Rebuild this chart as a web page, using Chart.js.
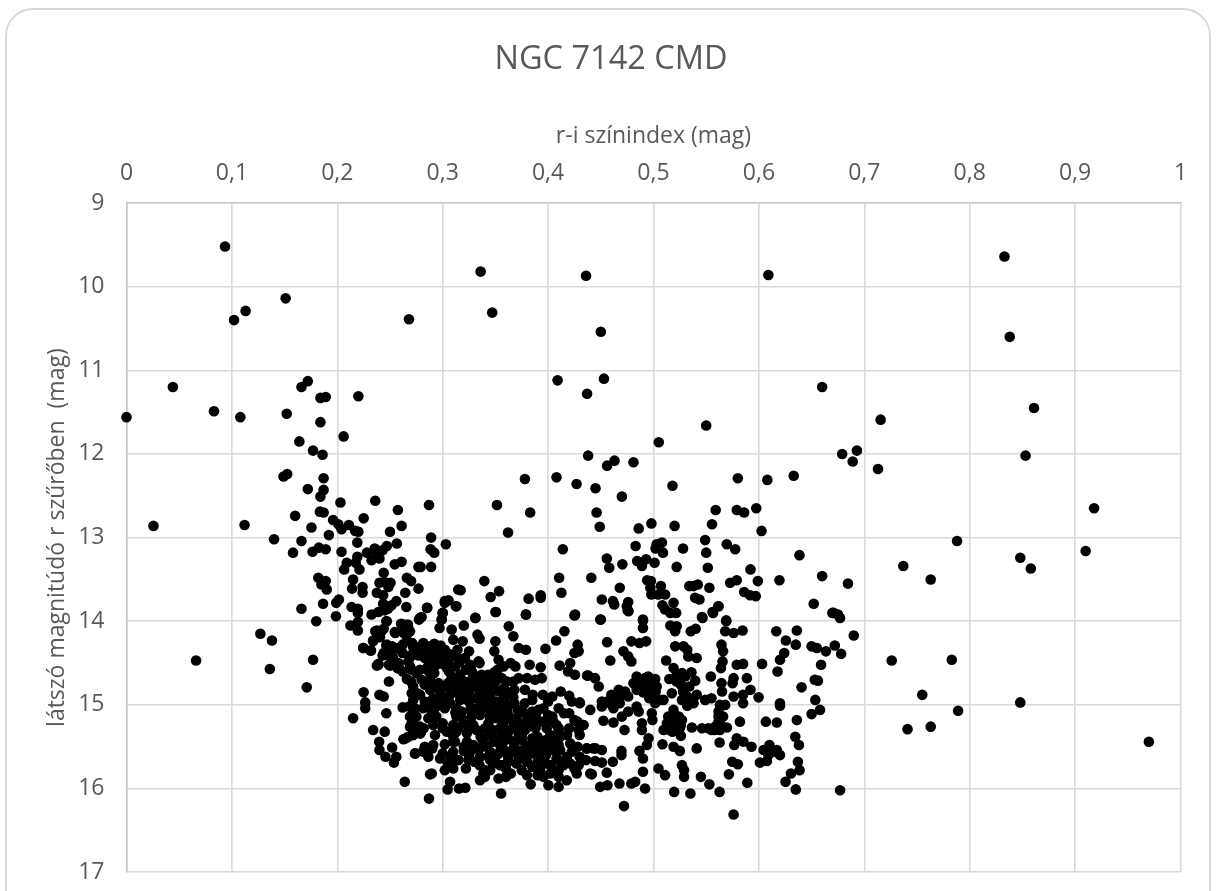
<!DOCTYPE html>
<html>
<head>
<meta charset="utf-8">
<title>NGC 7142 CMD</title>
<script src="https://cdn.jsdelivr.net/npm/chart.js@4"></script>
<style>
  html, body { margin: 0; padding: 0; background: #fff; overflow: hidden; width: 1216px; height: 891px; }
  #card { position: absolute; left: 5px; top: 8px; width: 1202px; height: 920px; border: 2px solid #d9d9d9; border-radius: 28px; }
  #chart { position: absolute; left: 6px; top: 0; }
</style>
</head>
<body>
<div id="card"></div>
<canvas id="chart" width="1210" height="908"></canvas>
<script>
var chartTitle = "NGC 7142 CMD";
var xTitle = "r-i színindex (mag)";
var yTitle = "látszó magnitúdó r szűrőben  (mag)";

// r-i values and r magnitudes
var colorIndex = [
  .0935,.336,.436,.609,.833,.838,.347,.450,.113,.102,.151,.268,
  .409,.453,.437,.660,.550,.505,.438,.463,.456,.481,
  .861,.853,.918,.7155,.679,.693,.689,.713,.788,.910,
  .737,.763,.848,.858,.6845,.671,.677,.690,.672,.678,.726,.783,.755,.789,.848,.741,.763,.970,.677,
  .044,0,.083,.108,.152,.172,.166,.184,.189,.220,.184,.206,.164,.177,.186,
  .1525,.149,.187,.172,.187,.184,.203,.236,.2575,.1835,.187,.160,.225,.196,.201,.204,.211,.1755,.261,
  .217,.220,.250,.192,.0256,.112,.140,.166,.219,.2565,.247,.2355,.228,.158,.1765,.1825,.189,.204,.243,.2375,
  .2325,.240,.219,.209,.261,.2545,.2175,.2065,.221,.244,.277,.182,.189,.185,.190,.215,.214,.224,.224,
  .266,.270,.277,.240,.245,.2505,.2485,.2375,.2435,.2645,.2015,.199,.1865,.256,.2515,.2435,.245,.248,
  .2655,.2135,.2195,.166,.239,.2325,.2195,.1987,.180,.2465,.2775,.2195,.2125,.2195,.127,.138,.066,.177,.136,.2375,
  .2605,.267,.2375,.244,.2545,.261,.267,.234,.2405,.2245,.2315,.2465,.2575,.272,.266,.243,.2515,.269,.25,.258,.269,
  .171,.225,.2265,.2265,.215,.240,.244,.2465,.262,.249,.239,.249,.258,.225,.232,
  .234,.245,.2397,.240,.252,.2457,.256,.2537,.264,.287,.265,.272,.279,.274,.282,.288,
  .2854,.2785,.302,.313,.3,.299,.297,.3085,.31,.319,.32,.331,.350,.379,.4256,.3627,.367,.333,.335,.350,
  .372,.379,.3975,.4076,.4155,.428,.425,.429,.349,.314,.334,.353,.3645,.369,.3825,.393,.411,.421,.419,.4255,.437,
  .3576,.349,.3266,.329,.337,.343,.38,.3876,.394,.361,.367,.35,.378,.3854,.395,.404,.412,.42,.4225,.43,.367,.359,
  .329,.342,.3196,.371,.361,.3955,.391,.3845,.404,.408,.415,.428,.4335,.429,
  .242,.236,.263,.267,.247,.234,.255,.263,.269,.247,.258,.271,.2816,.288,.244,.25,.2706,.28,.294,.302,
  .239,.25,.257,.253,.2674,.283,.29,.2975,.305,.313,.321,.2785,.2706,.286,.294,.304,.312,.3165,.3085,
  .266,.288,.296,.312,.313,.2706,.2785,.288,.2975,.307,.3165,.291,.283,
  .2737,.2816,.288,.2975,.307,.313,.323,.332,.3386,.345,.351,.3576,
  .269,.275,.2706,.2864,.294,.313,.326,.332,.342,.348,.3354,.3275,
  .269,.2785,.291,.31,.3196,.329,.3434,.351,.3576,.367,.3766,
  .2674,.2627,.2785,.2927,.304,.313,.323,.332,.348,.356,.364,.372,.381,.389,.3987,
  .3117,.302,.291,.283,.323,.329,.348,.3576,.367,.375,.3845,.3924,.405,.4114,.421,.430,
  .2737,.2816,.2864,.2975,.307,.3275,.3354,.3434,.353,.3623,.372,.38,.389,.405,.4114,.4225,.4367,
  .31,.3244,.345,.3544,.37,.3924,.3924,.4025,.4146,.421,.429,.31,.3386,.408,
  .2896,.302,.34,.3354,.353,.3646,.402,.4272,.44,.3956,.4177,
  .307,.3047,.3155,.3215,.3554,.3835,.4003,.41,
  .45,.490,.490,.4747,.4763,.5465,.5565,.5617,.569,.568,.576,.5845,.516,.522,.5205,.5354,.540,
  .6165,.636,.6256,.635,.65,.655,.6636,.624,.62,.659,.603,.6177,.653,.656,.6405,.6535,.658,.65,.62,.62,
  .456,.479,.4867,.493,.4715,.476,.479,.459,.5206,.5285,.532,.533,.541,.512,.519,
  .5645,.566,.5655,.564,.579,.585,.5544,.5886,.576,.575,.5645,.565,.592,.585,.576,.5997,.585,
  .438,.4445,.448,.484,.495,.5016,.481,.4905,.497,.492,.467,.473,.4984,.465,.451,.451,.459,.462,.47,.476,.484,.486,
  .506,.5095,.5016,.4984,.499,.515,.527,.536,.5396,.525,.53,.5174,.532,.527,.532,.538,.541,
  .549,.555,.563,.568,.5617,.5617,.582,.6066,.617,.636,
  .519,.514,.527,.5127,.5206,.5095,.525,.5155,.526,.5364,.546,.555,.563,.5696,.5617,.5585,
  .5627,.541,.579,.5766,.5854,.593,.6345,.638,.61,.6044,.609,.62,.617,.601,.6076,.614,
  .637,.6386,.6304,.6253,.635,.5747,.58,.5715,.589,.5627,.576,.545,.553,.535,.5196,.472,
  .5085,.519,.525,.4953,.4937,.489,.489,.4725,.462,.4525,.4335,.43,
  .4367,.443,.451,.4696,.4696,.4867,.49,.4614,.4446,.451,.49,.5047,.511,.527,.529,.529,
  .4415,.4557,.4494,.4563,.4677,.479,.4826,.492,
  .378,.408,.427,.445,.470,.518,.580,.608,.633,.287,.3515,.383,.362,.446,.449,.486,.498,.520,.559,.579,.586,.5975,.5555,.6025,
  .289,.303,.2885,.292,.289,.279,.414,.483,.503,.508,.502,.509,.528,.549,.550,.5695,.5775,.6385,
  .4557,.458,.4705,.4845,.493,.489,.501,.522,.5515,.592,.3395,.3148,.317,.3535,.3455,.3815,.393,.393,
  .4105,.4126,.441,.468,.451,.4615,.4627,.476,.4755,.494,.4975,.497,.507,.498,.5045,.511,.519,.5085,.511,.516,.5215,
  .534,.538,.542,.553,.5395,.5436,.5616,.556,.546,.569,.5727,.579,.599,.6195,.586,.5916,.597,.66,.652,.6697,.675,
  .425,.4495,.490,.379,.3505,.331,.3125,.302,.3055,.285,.3,.299,.28,
  // dense core, where single dots can't be told apart
  .252,.262,.276,.292,.298,
  .246,.262,.277,.287,.306,.325,
  .258,.292,.300,.316,.326,.335,
  .262,.275,.287,.292,.306,.322,.328,.352,
  .27,.28,.305,.318,.325,.333,.342,.356,.372,
  .272,.283,.292,.304,.32,.338,.348,.358,.368,
  .276,.30,.315,.325,.335,.352,.362,
  .272,.288,.305,.325,.338,.346,.358,.368,
  .268,.293,.302,.318,.338,.345,.354,.362,
  .272,.29,.312,.33,.345,.353,.362,.378,.4,
  .272,.30,.32,.326,.345,.36,.37,.382,.396,
  .272,.282,.3,.315,.325,.34,.355,.368,.378,.388,.41,.42,
  .272,.31,.336,.345,.36,.375,.39,.402,.418,
  .29,.32,.335,.342,.355,.368,.38,.398,.41,.428,.445,
  .3,.325,.35,.362,.378,.398,.418,.43,
  .305,.335,.362,.38,.41,.436,
  .488,.492,.5,.486,.494,.503,.49,.498,.496,.502,
  .522,.53,.526,.534,.528,.522,.532,
  .515,.52,.526,.518,.524,.512,
  .47,.476,.484,.482,.46,.456,.468,
  .564,.558,.552,.566,
  // lower part of the core
  .31,.338,.352,.362,.372,.385,.398,
  .31,.32,.345,.358,.368,.376,.385,.395,
  .315,.33,.348,.358,.372,.39,.398,
  .322,.345,.36,.375,.385,.41,
  .34,.36,.38,.39,.41,.425,
  .38,.39,.405,.41,.425,
  .375,.385,.41,.42,.44,
  .378,.40,.385
];
var rMagnitude = [
  9.52,9.82,9.87,9.86,9.64,10.60,10.31,10.54,10.29,10.40,10.14,10.39,
  11.12,11.10,11.28,11.20,11.66,11.86,12.02,12.08,12.14,12.10,
  11.45,12.02,12.65,11.59,12.00,11.96,12.09,12.18,13.04,13.16,
  13.34,13.50,13.24,13.37,13.55,13.90,13.96,14.17,14.29,14.39,14.47,14.46,14.88,15.07,14.97,15.29,15.26,15.44,16.02,
  11.20,11.56,11.49,11.56,11.52,11.13,11.20,11.33,11.32,11.31,11.62,11.79,11.85,11.96,12.01,
  12.24,12.27,12.29,12.42,12.43,12.51,12.58,12.56,12.67,12.69,12.70,12.74,12.77,12.79,12.84,12.90,12.85,12.88,12.86,
  12.92,12.93,12.93,12.97,12.86,12.85,13.02,13.04,13.06,13.07,13.10,13.13,13.18,13.18,13.17,13.12,13.14,13.17,13.15,13.19,
  13.27,13.25,13.23,13.30,13.29,13.32,13.30,13.38,13.38,13.42,13.35,13.48,13.52,13.56,13.62,13.50,13.61,13.59,13.66,
  13.48,13.52,13.61,13.54,13.53,13.54,13.59,13.66,13.69,13.66,13.74,13.78,13.79,13.76,13.81,13.79,13.87,13.85,
  13.83,13.83,13.85,13.85,13.89,13.92,13.90,13.94,14.00,14.00,13.98,14.01,14.05,14.11,14.15,14.23,14.47,14.46,14.57,14.53,
  14.03,14.04,14.11,14.09,14.13,14.11,14.14,14.23,14.19,14.32,14.35,14.29,14.33,14.31,14.23,14.41,14.43,14.43,14.53,14.53,14.54,
  14.79,14.85,14.97,15.04,15.16,14.88,14.90,15.10,15.03,14.72,14.51,14.52,14.56,14.32,14.35,
  15.30,15.32,15.44,15.54,15.51,15.62,15.62,15.69,15.92,16.12,15.40,15.36,15.34,15.58,15.54,15.83,
  13.84,13.96,13.78,13.82,13.90,13.98,14.08,14.10,14.22,14.24,14.05,13.96,13.89,13.92,13.92,14.06,14.18,14.16,14.21,14.24,
  14.32,14.34,14.33,14.23,14.12,14.28,14.38,14.36,14.36,14.34,14.48,14.46,14.50,14.54,14.52,14.55,14.53,14.50,14.60,14.64,14.65,
  14.54,14.61,14.56,14.64,14.64,14.64,14.68,14.70,14.68,14.72,14.72,14.72,14.82,14.88,14.88,14.90,14.84,14.89,14.96,14.97,14.91,14.90,
  14.78,14.84,14.92,15.06,15.08,15.04,15.06,15.12,15.14,15.24,15.10,15.20,15.24,15.30,
  14.12,14.12,14.04,14.06,14.00,14.24,14.14,14.14,14.12,14.28,14.32,14.26,14.26,14.30,14.38,14.38,14.40,14.34,14.36,14.34,
  14.52,14.52,14.56,14.44,14.48,14.44,14.42,14.44,14.48,14.42,14.44,14.58,14.58,14.54,14.52,14.56,14.54,14.64,14.66,
  14.69,14.70,14.74,14.74,14.82,14.86,14.88,14.82,14.84,14.88,14.94,14.92,14.96,
  15.04,15.04,15.04,14.96,14.98,15.04,14.90,14.92,14.90,14.88,14.96,14.88,
  15.14,15.14,15.22,15.16,15.14,15.14,15.06,15.04,15.00,15.06,15.12,15.14,
  15.26,15.26,15.24,15.24,15.22,15.24,15.22,15.16,15.22,15.20,15.22,
  15.38,15.41,15.34,15.36,15.32,15.32,15.34,15.30,15.30,15.34,15.30,15.32,15.26,15.16,15.28,
  15.44,15.47,15.48,15.50,15.44,15.48,15.44,15.44,15.44,15.42,15.46,15.48,15.44,15.38,15.46,15.36,
  15.58,15.56,15.62,15.64,15.61,15.54,15.62,15.62,15.58,15.56,15.58,15.56,15.54,15.54,15.54,15.56,15.52,
  15.68,15.66,15.66,15.72,15.70,15.64,15.78,15.72,15.72,15.70,15.72,15.76,15.82,15.64,
  15.82,15.78,15.78,15.90,15.88,15.82,15.82,15.82,15.82,15.86,15.90,
  15.92,16.01,16.00,15.99,16.06,15.95,15.96,15.98,
  13.98,13.98,14.08,13.82,13.88,13.96,13.90,13.82,14.00,14.12,14.14,14.11,14.05,14.06,14.12,14.12,14.09,
  14.12,14.11,14.23,14.28,14.30,14.32,14.36,14.38,14.46,14.52,14.51,14.60,14.70,14.71,14.79,14.94,15.06,15.11,14.98,15.01,
  14.25,14.24,14.26,14.24,14.36,14.42,14.48,14.47,14.30,14.30,14.34,14.42,14.44,14.47,14.56,
  14.28,14.36,14.48,14.56,14.52,14.51,14.66,14.68,14.68,14.74,14.74,14.84,14.82,14.88,14.90,14.91,14.98,
  14.65,14.68,14.78,14.66,14.66,14.69,14.74,14.72,14.78,14.84,14.82,14.84,14.88,14.92,14.96,15.02,14.98,15.04,15.14,15.08,15.02,15.08,
  14.94,14.94,14.98,15.10,15.18,14.69,14.62,14.61,14.71,14.70,14.80,14.86,14.90,14.94,15.01,14.98,14.88,
  14.94,14.92,15.00,15.00,15.08,15.14,15.20,15.20,15.21,15.18,
  15.06,15.14,15.18,15.22,15.22,15.30,15.28,15.30,15.37,15.27,15.28,15.30,15.30,15.27,15.20,15.26,
  15.45,15.52,15.40,15.48,15.44,15.50,15.38,15.48,15.48,15.54,15.60,15.60,15.54,15.69,15.67,15.56,
  15.68,15.78,15.82,15.92,16.01,15.68,15.71,15.83,15.93,16.04,16.31,15.86,15.95,16.06,16.04,16.21,
  15.47,15.50,15.55,15.40,15.48,15.22,15.30,15.30,15.21,15.19,15.24,14.98,
  15.52,15.52,15.54,15.55,15.60,15.55,15.64,15.68,15.67,15.69,15.80,15.76,15.84,15.72,15.78,15.86,
  15.83,15.81,15.98,15.96,15.94,15.94,15.92,16.00,
  12.30,12.28,12.36,12.41,12.51,12.38,12.29,12.31,12.26,12.61,12.61,12.70,12.94,12.70,12.87,12.89,12.83,12.86,12.67,12.67,12.70,12.65,12.84,12.92,
  13.00,13.08,13.14,13.18,13.35,13.35,13.14,13.10,13.08,13.06,13.13,13.18,13.13,13.03,13.18,13.08,13.14,13.21,
  13.25,13.36,13.32,13.28,13.26,13.34,13.30,13.35,13.36,13.38,13.52,13.62,13.63,13.64,13.71,13.73,13.69,13.72,
  13.48,13.66,13.48,13.60,13.74,13.76,13.80,13.77,13.87,13.51,13.52,13.60,13.58,13.68,13.68,13.68,13.78,13.81,13.86,13.90,13.90,
  13.58,13.58,13.56,13.60,13.72,13.74,13.82,13.89,13.95,13.99,13.54,13.51,13.52,13.51,13.65,13.69,13.70,13.46,13.79,13.90,13.92,
  13.93,13.98,13.99,13.92,13.89,13.96,13.82,13.76,13.75,13.84,13.90,13.98,13.95,
  // dense core
  14.30,14.28,14.31,14.27,14.29,
  14.40,14.38,14.41,14.38,14.39,14.36,
  14.50,14.49,14.51,14.49,14.52,14.50,
  14.60,14.62,14.60,14.62,14.60,14.58,14.61,14.58,
  14.72,14.70,14.74,14.70,14.72,14.70,14.71,14.68,14.68,
  14.78,14.76,14.79,14.78,14.80,14.78,14.78,14.80,14.82,
  14.86,14.90,14.86,14.84,14.86,14.83,14.85,
  14.94,14.97,14.94,14.96,14.97,14.94,14.96,14.98,
  15.02,15.03,15.04,15.08,15.04,15.03,15.02,15.01,
  15.08,15.09,15.09,15.10,15.12,15.08,15.12,15.10,15.12,
  15.18,15.22,15.18,15.19,15.16,15.16,15.16,15.18,15.20,
  15.30,15.28,15.28,15.27,15.28,15.28,15.27,15.26,15.30,15.28,15.30,15.28,
  15.36,15.38,15.38,15.36,15.38,15.37,15.38,15.36,15.36,
  15.52,15.50,15.52,15.50,15.50,15.50,15.50,15.50,15.48,15.50,15.52,
  15.58,15.60,15.62,15.62,15.62,15.60,15.62,15.62,
  15.70,15.72,15.68,15.68,15.66,15.66,
  14.70,14.68,14.72,14.76,14.80,14.78,14.85,14.88,14.92,14.84,
  14.64,14.66,14.76,14.78,14.84,14.72,14.92,
  15.16,15.26,15.24,15.32,15.14,15.28,
  14.88,14.90,14.82,14.74,14.88,14.96,14.98,
  15.24,15.30,15.28,15.14,
  // lower part of the core
  15.44,15.42,15.41,15.40,15.38,15.40,15.42,
  15.56,15.55,15.56,15.54,15.56,15.54,15.58,15.60,
  15.66,15.68,15.70,15.72,15.64,15.68,15.70,
  15.76,15.78,15.76,15.78,15.74,15.78,
  15.86,15.86,15.84,15.84,15.86,15.76,
  15.20,15.22,15.20,15.28,15.18,
  15.06,15.08,15.04,15.10,15.06,
  14.98,14.96,14.94
];

var xTickStep = 0.1;
var yTicksMin = 9;
var yTicksMax = 17;

var stars = colorIndex.map(function(ri, i) {
  return { x: ri, y: rMagnitude[i] };
});

var labelFont = "'Open Sans', sans-serif";
var textColor = "#595959";
var gridColor = "#d9d9d9";

new Chart(document.getElementById("chart"), {
  type: 'scatter',
  data: {
    datasets: [{
      label: "NGC 7142",
      data: stars,
      backgroundColor: "#000",
      borderWidth: 0,
      pointRadius: 5.3,
      pointHoverRadius: 5.3
    }]
  },
  options: {
    responsive: false,
    animation: false,
    clip: false,
    layout: { padding: { left: 35.5, right: 35.5, top: 0, bottom: 5 } },
    plugins: {
      legend: { display: false },
      tooltip: { enabled: false },
      title: {
        display: true,
        text: chartTitle,
        color: textColor,
        font: { family: labelFont, size: 32.5, weight: 'normal', lineHeight: 1.2 },
        padding: { top: 40, bottom: 0 }
      }
    },
    scales: {
      x: {
        type: 'linear',
        position: 'top',
        min: 0,
        max: 1,
        afterFit: function(scale) { scale.height = 203 - 79; },
        title: {
          display: true,
          text: xTitle,
          color: textColor,
          font: { family: labelFont, size: 23, weight: 'normal', lineHeight: 1.2 },
          padding: { top: 44, bottom: 0 }
        },
        grid: { color: gridColor, lineWidth: 1.6, drawTicks: false },
        border: { color: "#c8c8c8", width: 1.6 },
        ticks: {
          stepSize: xTickStep,
          padding: 16,
          color: textColor,
          font: { family: labelFont, size: 23 },
          callback: function(v) {
            return Number.isInteger(v) ? String(v) : v.toFixed(1).replace('.', ',');
          }
        }
      },
      y: {
        type: 'linear',
        reverse: true,
        min: yTicksMin,
        max: yTicksMax,
        afterFit: function(scale) { scale.width = 85; },
        title: {
          display: true,
          text: yTitle,
          color: textColor,
          font: { family: labelFont, size: 23, weight: 'normal', lineHeight: 1.2 },
          padding: { top: 2.5, bottom: 0 }
        },
        grid: { color: gridColor, lineWidth: 1.6, drawTicks: false },
        border: { color: "#c8c8c8", width: 1.6 },
        ticks: {
          stepSize: 1,
          padding: 22,
          color: textColor,
          font: { family: labelFont, size: 23 }
        }
      }
    }
  }
});
</script>
</body>
</html>
